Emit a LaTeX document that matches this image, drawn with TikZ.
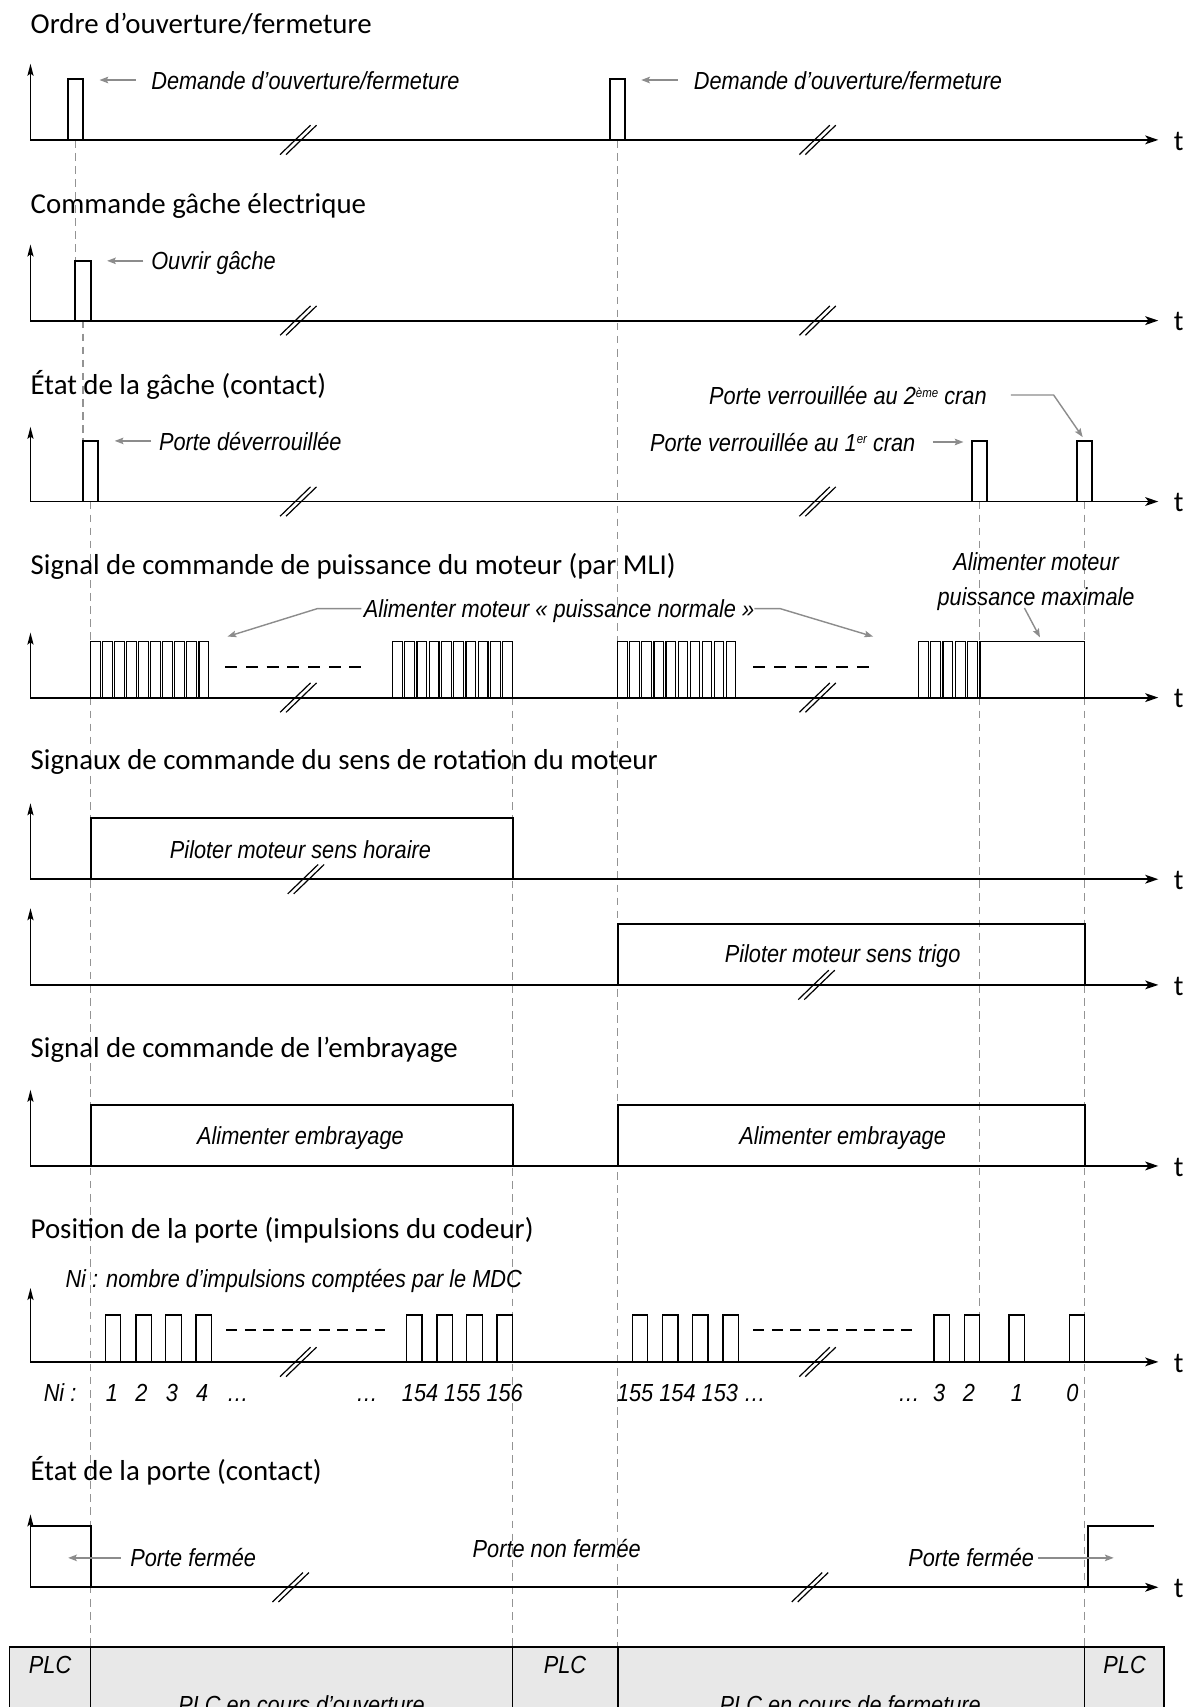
\documentclass[tikz,border=0pt]{standalone}
\usepackage{fontspec}
\setmainfont{Carlito}
\newfontfamily\labfont{Liberation Sans}[FakeStretch=0.88]
\usetikzlibrary{arrows.meta}
\newcommand\supx[1]{\raisebox{7pt}{\fontsize{12}{12}\selectfont #1}}
\tikzset{
 x=1pt, y=-1pt,
 sig/.style={line width=1.8pt, line join=miter},
 thinsig/.style={line width=1.2pt, line join=miter},
 pwmsig/.style={line width=1pt, line join=miter},
 axisline/.style={line width=1.7pt, line join=miter, {Stealth[length=11pt,width=5.5pt,inset=2pt]}-{Stealth[length=12pt,width=8pt,inset=3pt]}},
 guide/.style={draw=gray!85, line width=1pt, dash pattern=on 7pt off 5pt},
 note/.style={draw=gray!90, line width=1.3pt, -{Stealth[length=8pt,width=6pt,inset=1.5pt]}},
 head/.style={anchor=base west, inner sep=0pt, font=\fontsize{26.5}{30}\selectfont},
 lab/.style={inner sep=0pt, font=\labfont\itshape\fontsize{22.7}{26}\selectfont},
 brkline/.style={line width=1.1pt},
 dotted4/.style={line width=1.8pt, dash pattern=on 11pt off 8pt},
 dotted7/.style={line width=1.8pt, dash pattern=on 10pt off 7pt},
}
\newcommand\axisrow[3]{%
 \draw[axisline] (28,#3) -- (28,#2) -- (1064,#2);
 \node[head] (t#1) at (1078,#2+9.5) {t};}
\newcommand\brkmark[2]{%
 \draw[brkline] (#1-16.75,#2+13.5) -- (#1+11.25,#2-13.5);
 \draw[brkline] (#1-11.25,#2+13.5) -- (#1+16.75,#2-13.5);}
\newcommand\pwmburst[5]{%
 \pgfmathsetmacro\pwmp{(#2-#1)/(#3-0.2)}%
 \pgfmathsetmacro\pwmw{0.8*\pwmp}%
 \foreach \k in {1,...,#3}{%
   \pgfmathsetmacro\xa{#1+(\k-1)*\pwmp}%
   \pgfmathsetmacro\xb{\xa+\pwmw}%
   \draw[pwmsig] (\xa,#4) -- (\xa,#5) -- (\xb,#5) -- (\xb,#4);
 }}
\newcommand\encpulse[3]{% x0 B top
 \draw[thinsig] (#1,#2) -- (#1,#3) -- (#1+14.2,#3) -- (#1+14.2,#2);}
\begin{document}
\begin{tikzpicture}
\useasboundingbox (0,0) rectangle (1092,1568);
% guide lines
\draw[guide] (69.2,128.5) -- (69.2,239.4);
\draw[guide] (76.2,294.5) -- (76.2,404.7);
\draw[guide] (83.3,460.7) -- (83.3,1513);
\draw[guide] (567.5,128.5) -- (567.5,1513);
\draw[guide] (470.8,640.8) -- (470.8,1513);
\draw[guide] (900,460.7) -- (900,1208);
\draw[guide] (996.3,460.7) -- (996.3,1513);
% headings
\node[head] (h1) at (28,30.5) {Ordre d’ouverture/fermeture};
\node[head] (h2) at (28,196.5) {Commande gâche électrique};
\node[head] (h3) at (28,362.7) {État de la gâche (contact)};
\node[head] (h4) at (28,528) {Signal de commande de puissance du moteur (par MLI)};
\node[head] (h5) at (28,707.2) {Signaux de commande du sens de rotation du moteur};
\node[head] (h6) at (28,971.5) {Signal de commande de l’embrayage};
\node[head] (h7) at (28,1138) {Position de la porte (impulsions du codeur)};
\node[head] (h8) at (28,1360) {État de la porte (contact)};
% axes
\axisrow{1}{128.5}{58.5}
\axisrow{2}{294.5}{224.5}
\axisrow{3}{460.7}{392}
\axisrow{4}{640.8}{581}
\axisrow{5}{807.6}{737.8}
\axisrow{6}{904.7}{834.2}
\axisrow{7}{1071}{1001}
\axisrow{8}{1251}{1183}
\axisrow{9}{1458}{1391}
% breaks
\foreach \yy in {128.5,294.5,460.7,640.8,1251}{\brkmark{274}{\yy}\brkmark{751}{\yy}}
\brkmark{281}{807.6}
\brkmark{750}{904.7}
\brkmark{267}{1458}
\brkmark{744}{1458}
% row 1
\draw[sig] (62.2,128.5) -- (62.2,73) -- (76.2,73) -- (76.2,128.5);
\draw[sig] (560.5,128.5) -- (560.5,73) -- (574.5,73) -- (574.5,128.5);
\node[lab, anchor=base west] (d1) at (138.8,82) {Demande d’ouverture/fermeture};
\node[lab, anchor=base west] (d2) at (637.2,82) {Demande d’ouverture/fermeture};
\coordinate (d1t) at (91.4,73.5);
\coordinate (d2t) at (589,73.5);
\draw[note] ([xshift=-14pt,yshift=8.5pt]d1.base west) -- (d1t);
\draw[note] ([xshift=-14.6pt,yshift=8.5pt]d2.base west) -- (d2t);
% row 2
\draw[sig] (69.2,294.5) -- (69.2,239.4) -- (83.2,239.4) -- (83.2,294.5);
\node[lab, anchor=base west] (og) at (138.8,248) {Ouvrir gâche};
\coordinate (ogt) at (98.4,239.6);
\draw[note] ([xshift=-7pt,yshift=8.4pt]og.base west) -- (ogt);
% row 3
\draw[sig] (76.3,460.7) -- (76.3,404.7) -- (90.3,404.7) -- (90.3,460.7);
\draw[sig] (893,460.7) -- (893,404.7) -- (907,404.7) -- (907,460.7);
\draw[sig] (989.3,460.7) -- (989.3,404.7) -- (1003.3,404.7) -- (1003.3,460.7);
\node[lab, anchor=base west] (pd) at (145.9,413.5) {Porte déverrouillée};
\coordinate (pdt) at (105.4,405);
\draw[note] ([xshift=-7pt,yshift=8.5pt]pd.base west) -- (pdt);
\node[lab, anchor=base east] (v1) at (841,414.5) {Porte verrouillée au 1\supx{er} cran};
\coordinate (v1t) at (885,406);
\draw[note] ([xshift=16pt,yshift=8.5pt]v1.base east) -- (v1t);
\node[lab, anchor=base east] (v2) at (906.5,372) {Porte verrouillée au 2\supx{ème} cran};
\coordinate (v2t) at (994.5,401.5);
\draw[note] ([xshift=22pt,yshift=9.2pt]v2.base east) -- (967.8,362.8) -- (v2t);
% row 4 PWM
\pwmburst{83.3}{191.6}{10}{640.8}{589}
\pwmburst{360.5}{470.8}{10}{640.8}{589}
\pwmburst{567.5}{676}{10}{640.8}{589}
\pwmburst{843.7}{897.7}{5}{640.8}{589}
\draw[line width=1.3pt, line join=miter] (900,640.8) -- (900,589) -- (996.3,589) -- (996.3,640.8);
\draw[dotted4] (207,612.9) -- (332,612.9);
\draw[dotted4] (692,612.9) -- (802.7,612.9);
\node[lab, anchor=base west] (pn) at (334,567) {Alimenter moteur « puissance normale »};
\coordinate (pnl) at (209,584.7);
\coordinate (pnr) at (802,584.7);
\draw[note] ([xshift=-2pt,yshift=8pt]pn.base west) -- (291.7,559) -- (pnl);
\draw[note] ([xshift=0pt,yshift=8pt]pn.base east) -- (716.4,559) -- (pnr);
\node[lab, anchor=base] (pm1) at (951.7,524) {Alimenter moteur};
\node[lab, anchor=base] (pm2) at (951.7,556) {puissance maximale};
\coordinate (pmt) at (955.3,585.5);
\draw[note] (941,558.5) -- (pmt);
% row 5
\draw[sig] (83.3,807.6) -- (83.3,751.6) -- (470.8,751.6) -- (470.8,807.6);
\node[lab, anchor=base] (sh) at (276,788.5) {Piloter moteur sens horaire};
\draw[sig] (567.5,904.7) -- (567.5,848.6) -- (996.3,848.6) -- (996.3,904.7);
\node[lab, anchor=base] (st) at (774,884.5) {Piloter moteur sens trigo};
% row 6
\draw[sig] (83.3,1071) -- (83.3,1015) -- (470.8,1015) -- (470.8,1071);
\draw[sig] (567.5,1071) -- (567.5,1015) -- (996.3,1015) -- (996.3,1071);
\node[lab, anchor=base] (e1) at (276,1051) {Alimenter embrayage};
\node[lab, anchor=base] (e2) at (774,1051) {Alimenter embrayage};
% row 7
\node[lab, anchor=base west] (ni) at (60,1183) {Ni : nombre d’impulsions comptées par le MDC};
\foreach \xx in {96.7,124.8,152.2,180,373.3,401.4,428.8,456.6,580.8,608.7,636.1,664,858,885.8,926.8,982.1}{\encpulse{\xx}{1251}{1208}}
\draw[dotted7] (208,1221.5) -- (354.3,1221.5);
\draw[dotted7] (692,1221.5) -- (839.4,1221.5);
\node[lab, anchor=base west] (n0) at (40,1287) {Ni :};
\node[lab, anchor=base] (n1) at (102.8,1287) {1};
\node[lab, anchor=base] (n2) at (130,1287) {2};
\node[lab, anchor=base] (n3) at (158,1287) {3};
\node[lab, anchor=base] (n4) at (185.8,1287) {4};
\node[lab, anchor=base] (n5) at (218.4,1287) {…};
\node[lab, anchor=base] (n6) at (337,1287) {…};
\node[lab, anchor=base west] (n7) at (369,1287) {154 155 156};
\node[lab, anchor=base west] (n8) at (566.6,1287) {155 154 153 …};
\node[lab, anchor=base] (n9) at (835,1287) {…};
\node[lab, anchor=base] (n10) at (862.6,1287) {3};
\node[lab, anchor=base] (n11) at (890,1287) {2};
\node[lab, anchor=base] (n12) at (934,1287) {1};
\node[lab, anchor=base] (n13) at (985,1287) {0};
% row 8
\draw[sig] (28,1402) -- (83.3,1402) -- (83.3,1458);
\draw[sig] (999.2,1458) -- (999.2,1402) -- (1059.8,1402);
\node[lab, anchor=base west] (pf1) at (119.5,1439) {Porte fermée};
\coordinate (pf1t) at (62.6,1431);
\draw[note] ([xshift=-8.8pt,yshift=8pt]pf1.base west) -- (pf1t);
\node[lab, anchor=base west] (pnf) at (434,1430.5) {Porte non fermée};
\node[lab, anchor=base east] (pf2) at (950,1439) {Porte fermée};
\coordinate (pf2t) at (1023,1431);
\draw[note] ([xshift=3.5pt,yshift=8pt]pf2.base east) -- (pf2t);
% PLC band
\draw[line width=1.4pt, fill=gray!18] (8.8,1513) rectangle (1069.4,1620);
\foreach \xx in {83.3,470.8,567.5,996.3}{\draw[line width=1.4pt] (\xx,1513) -- (\xx,1620);}
\node[lab, anchor=base] (p1) at (46,1537) {PLC};
\node[lab, anchor=base] (p2) at (519,1537) {PLC};
\node[lab, anchor=base] (p3) at (1033,1537) {PLC};
\node[lab, anchor=base] (p4) at (277,1574) {PLC en cours d’ouverture};
\node[lab, anchor=base] (p5) at (781,1574) {PLC en cours de fermeture};
\end{tikzpicture}
\end{document}
